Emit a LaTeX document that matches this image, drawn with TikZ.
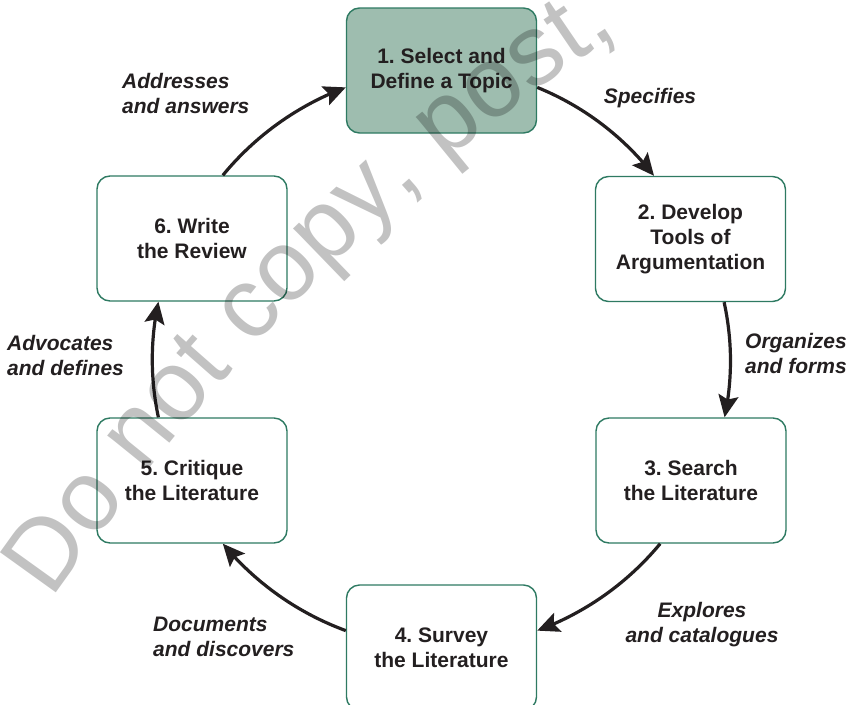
\documentclass[tikz,border=0pt]{standalone}
\usepackage{fontspec}
\setmainfont{Liberation Sans}
\newfontfamily\wmfont{Liberation Sans}
\usetikzlibrary{arrows.meta,bending,decorations.text}
\frenchspacing

\definecolor{boxline}{RGB}{46,122,98}
\definecolor{topicfill}{RGB}{158,189,175}
\definecolor{ink}{RGB}{35,31,32}

\begin{document}
\begin{tikzpicture}[x=1pt,y=1pt,
  stagebox/.style={draw=boxline, line width=1.4pt, rounded corners=13pt,
    minimum width=190pt, minimum height=125pt, inner sep=0pt,
    align=center, text=ink, fill=white,
    font=\bfseries\fontsize{21}{25}\selectfont},
  flow/.style={draw=ink, line width=3.2pt, looseness=0.87,
    -{Stealth[length=22pt,width=20pt,inset=4pt]}},
  note/.style={text=ink, inner sep=0pt,
    font=\bfseries\itshape\fontsize{21}{25.5}\selectfont},
]
\useasboundingbox (0,0) rectangle (848,-704);

% the six stages of the review cycle
\node[stagebox, fill=topicfill] (n1) at (441.5,-70.5) {1. Select and\\Define a Topic};
\node[stagebox] (n2) at (690.5,-239)   {2. Develop\\Tools of\\Argumentation};
\node[stagebox] (n3) at (691,-480.5)   {3. Search\\the Literature};
\node[stagebox] (n4) at (441.5,-647.5) {4. Survey\\the Literature};
\node[stagebox] (n5) at (192,-480.5)   {5. Critique\\the Literature};
\node[stagebox] (n6) at (192,-238.5)   {6. Write\\the Review};

% connectors around the circle
\draw[flow] (n1.-10)  to[bend left=15] (n2.120);
\draw[flow] (n2.-62)  to[bend left=12] (n3.62);
\draw[flow] (n3.-116) to[bend left=15] (n4.10);
\draw[flow] (n4.170)  to[bend left=15] (n5.-64);
\draw[flow] (n5.118)  to[bend left=12] (n6.-118);
\draw[flow] (n6.64)   to[bend left=15] (n1.190);

% connector labels
\node[note, anchor=base] (l12) at (650,-103) {Specifies};
\node[note, anchor=north west, align=left] (l23) at (745,-332.7) {Organizes\\and forms};
\node[note, anchor=north, align=center] (l34) at (702,-601.7) {Explores\\and catalogues};
\node[note, anchor=north west, align=left] (l45) at (153,-616.7) {Documents\\and discovers};
\node[note, anchor=north west, align=left] (l56) at (7,-334.7) {Advocates\\and defines};
\node[note, anchor=north west, align=left] (l61) at (122,-72.7) {Addresses\\and answers};

% translucent watermark along a gentle arc
\begin{scope}[opacity=0.24]
\path[decorate, decoration={text along path, text align=left, text color=black,
    text={|\wmfont\fontsize{100}{100}\selectfont|Do not copy, post,}}]
  (52,-600) .. controls (205,-381) and (392,-181) .. (612,-38) -- ++(33:140);
\end{scope}
\end{tikzpicture}
\end{document}
